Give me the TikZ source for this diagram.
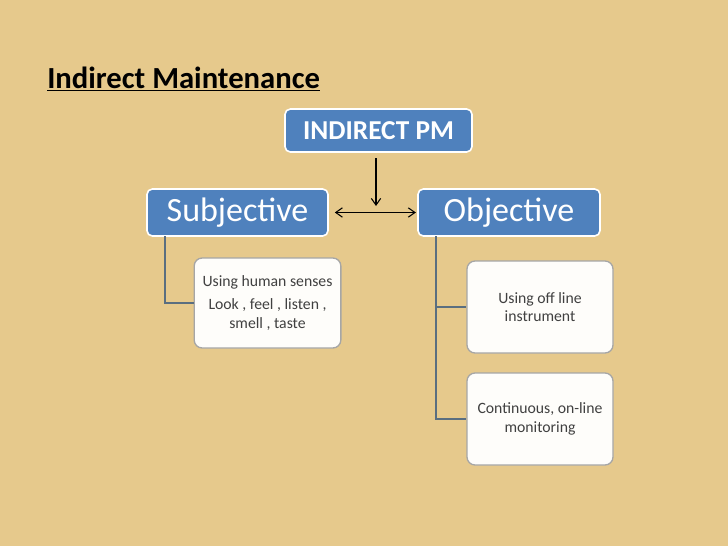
\documentclass[tikz,border=0pt]{standalone}
\usepackage{fontspec}
\setmainfont{Carlito}
\usetikzlibrary{arrows.meta}
\definecolor{bg}{HTML}{E6C98C}
\definecolor{hdr}{HTML}{4F81BD}
\definecolor{ln}{HTML}{5A6E80}
\tikzset{
  hbox/.style={draw=white,line width=1.2pt,fill=hdr,rounded corners=4pt,text=white,inner sep=0pt},
  wbox/.style={draw=gray!70,line width=1pt,fill=white!96!bg,rounded corners=6pt,text=black!75,align=center,font=\fontsize{11.8}{14}\selectfont,inner sep=0pt},
  conn/.style={draw=ln,line width=1.5pt},
}
\begin{document}
\begin{tikzpicture}[x=0.75pt,y=-0.75pt]
\fill[bg] (0,0) rectangle (728,546);
\useasboundingbox (0,0) rectangle (728,546);
\node[anchor=base west,inner sep=0pt,font=\bfseries\fontsize{23}{26}\selectfont] (title) at (47,88) {\underline{Indirect Maintenance}};
\node[hbox,minimum width=140.25pt,minimum height=32.25pt,font=\bfseries\fontsize{20.5}{23}\selectfont] (pm) at (378.5,130.5) {INDIRECT PM};
\node[hbox,minimum width=135.75pt,minimum height=35.25pt,font=\fontsize{25.5}{28}\selectfont] (sub) at (237.5,212.5) {Subjective};
\node[hbox,minimum width=136.5pt,minimum height=35.25pt,font=\fontsize{25.5}{28}\selectfont] (obj) at (509,212.5) {Objective};
\node[wbox,minimum width=110pt,minimum height=67.5pt] (s1) at (267.5,303) {Using human senses\\[3pt]Look , feel , listen ,\\smell , taste};
\node[wbox,minimum width=109.5pt,minimum height=69pt] (o1) at (540,307) {Using off line\\instrument};
\node[wbox,minimum width=109.5pt,minimum height=69pt] (o2) at (540,419) {Continuous, on-line\\monitoring};
\draw[-{Straight Barb[length=5pt,width=7pt]},line width=0.8pt] (376,158) -- (376,206);
\draw[{Straight Barb[length=5pt,width=7pt]}-{Straight Barb[length=5pt,width=7pt]},line width=0.8pt] (sub.east)++(6,0) -- ([xshift=-1pt]obj.west);
\draw[conn] (165,236) |- (s1.west);
\draw[conn] (436,236) |- (o2.west);
\draw[conn] (436,307) -- (o1.west);
\end{tikzpicture}
\end{document}
